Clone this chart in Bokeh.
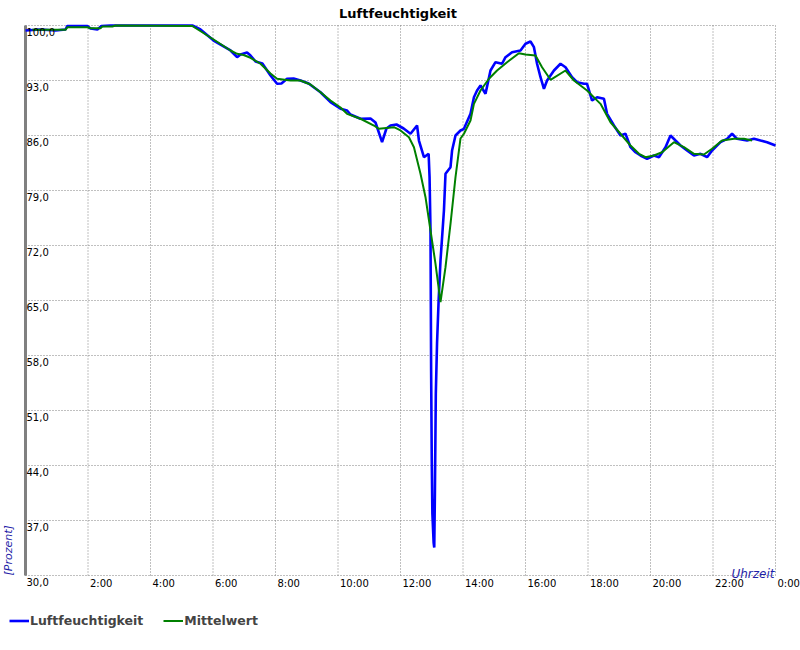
from math import pi
from bokeh.plotting import figure
from bokeh.models import Range1d, Label, LabelSet, ColumnDataSource, Legend, LegendItem
from bokeh.core.properties import value
from bokeh.embed import file_html
from bokeh.resources import INLINE

# ---- data ----
hours_blue = [0.0, 0.48, 0.96, 1.28, 1.34, 1.98, 2.08, 2.30, 2.43, 2.72, 5.34, 5.60, 6.02, 6.56, 6.77, 6.88,
              7.09, 7.20, 7.36, 7.58, 7.84, 8.05, 8.19, 8.37, 8.58, 8.80, 9.06, 9.44, 9.76, 10.08, 10.29, 10.40,
              10.72, 11.04, 11.20, 11.41, 11.55, 11.68, 11.87, 12.10, 12.32, 12.53, 12.59, 12.75, 12.90, 12.93,
              12.96, 12.98, 13.00, 13.02, 13.06, 13.08, 13.10, 13.13, 13.17, 13.22, 13.28, 13.39, 13.44, 13.60,
              13.65, 13.76, 13.92, 14.03, 14.24, 14.35, 14.45, 14.56, 14.72, 14.88, 15.04, 15.25, 15.36, 15.57,
              15.84, 16.00, 16.16, 16.27, 16.37, 16.48, 16.59, 16.69, 16.91, 17.12, 17.28, 17.49, 17.65, 17.87,
              17.97, 18.13, 18.29, 18.51, 18.61, 18.83, 19.04, 19.20, 19.36, 19.52, 19.68, 19.89, 20.11, 20.27,
              20.48, 20.64, 20.80, 20.96, 21.17, 21.39, 21.60, 21.81, 21.97, 22.24, 22.45, 22.61, 22.77, 23.09,
              23.31, 23.52, 23.73, 24.00]
values_blue = [99.36, 99.49, 99.36, 99.49, 99.94, 99.94, 99.62, 99.49, 99.94, 100.0, 100.0, 99.49, 98.09, 96.82,
               95.97, 96.31, 96.56, 96.18, 95.42, 95.16, 93.64, 92.58, 92.62, 93.22, 93.25, 93.0, 92.62, 91.51,
               90.24, 89.4, 89.18, 88.67, 88.13, 88.16, 87.65, 85.15, 86.89, 87.27, 87.4, 86.89, 86.22, 87.27,
               85.36, 83.24, 83.67, 80.69, 73.91, 56.09, 44.89, 37.89, 34.2, 33.56, 40.18, 53.16, 59.65, 65.0,
               70.09, 76.45, 81.13, 81.97, 84.09, 86.0, 86.64, 86.85, 88.76, 90.87, 91.73, 92.36, 91.31, 94.27,
               95.33, 95.13, 95.97, 96.6, 96.82, 97.67, 97.96, 97.24, 95.13, 93.42, 91.94, 93.0, 94.27, 95.13,
               94.69, 93.42, 92.78, 92.58, 92.58, 90.45, 90.87, 90.67, 88.76, 87.27, 86.0, 86.22, 84.51, 83.87,
               83.45, 83.03, 83.45, 83.24, 84.51, 86.0, 85.36, 84.73, 84.09, 83.45, 83.67, 83.24, 84.09, 85.15,
               85.58, 86.22, 85.58, 85.36, 85.58, 85.36, 85.15, 84.73]

hours_green = [0.22, 1.28, 1.34, 1.98, 2.08, 2.40, 2.46, 2.78, 2.88, 5.34, 6.02, 6.56, 6.77, 6.98, 7.20, 7.52,
               7.84, 8.05, 8.48, 8.80, 9.12, 9.44, 9.76, 10.08, 10.29, 10.72, 11.15, 11.31, 11.79, 12.00, 12.27,
               12.43, 12.64, 12.80, 12.96, 13.12, 13.28, 13.44, 13.60, 13.76, 13.92, 14.03, 14.24, 14.35, 14.56,
               14.83, 15.09, 15.41, 15.79, 16.00, 16.32, 16.53, 16.80, 17.28, 17.55, 17.97, 18.40, 18.72, 19.04,
               19.36, 19.63, 19.84, 20.11, 20.37, 20.75, 21.07, 21.39, 21.71, 21.97, 22.29, 22.67, 22.99, 23.25]
values_green = [99.45, 99.45, 99.78, 99.78, 99.66, 99.66, 99.87, 99.87, 100.0, 99.94, 98.22, 96.82, 96.4, 96.25,
                95.89, 95.13, 93.89, 93.22, 93.0, 93.0, 92.49, 91.51, 90.45, 89.56, 88.76, 88.13, 87.27, 86.85,
                87.06, 86.64, 85.78, 84.51, 81.13, 78.15, 73.91, 69.67, 64.78, 69.24, 74.76, 80.69, 85.62, 86.22,
                87.91, 90.03, 91.73, 93.22, 94.27, 95.33, 96.47, 96.31, 96.18, 94.69, 93.09, 94.27, 93.0, 91.73,
                90.03, 87.69, 86.22, 84.73, 83.67, 83.24, 83.45, 83.87, 85.15, 84.51, 83.67, 83.58, 84.31, 85.36,
                85.58, 85.58, 85.36]

x_grid_hours = [0, 2, 4, 6, 8, 10, 12, 14, 16, 18, 20, 22, 24]
x_label_hours = [2, 4, 6, 8, 10, 12, 14, 16, 18, 20, 22, 24]
x_tick_labels = ["2:00", "4:00", "6:00", "8:00", "10:00", "12:00", "14:00", "16:00",
                 "18:00", "20:00", "22:00", "0:00"]
y_ticks = [30, 37, 44, 51, 58, 65, 72, 79, 86, 93, 100]
y_tick_labels = ["30,0", "37,0", "44,0", "51,0", "58,0", "65,0", "72,0", "79,0", "86,0", "93,0", "100,0"]

title_text = "Luftfeuchtigkeit"
x_title = "Uhrzeit"
y_title = "[Prozent]"
series_names = ["Luftfeuchtigkeit", "Mittelwert"]

# ---- layout constants (pixels) ----
W, H = 800, 645
PLOT_L, PLOT_R, PLOT_T, PLOT_B = 25, 775, 25, 575
x_lo, x_hi = min(x_grid_hours), max(x_grid_hours)
y_lo, y_hi = min(y_ticks), max(y_ticks)
ppx = (PLOT_R - PLOT_L) / (x_hi - x_lo)
ppy = (PLOT_B - PLOT_T) / (y_hi - y_lo)

FONT = "DejaVu Sans"
BLUE = "#0000ff"
GREEN = "#008000"
GRID = "#808080"
AXIS_TITLE_COLOR = "#1f1fa8"

p = figure(width=W, height=H,
           x_range=Range1d(x_lo - PLOT_L / ppx, x_hi + (W - PLOT_R) / ppx),
           y_range=Range1d(y_lo - (H - PLOT_B) / ppy, y_hi + PLOT_T / ppy),
           output_backend="svg", toolbar_location=None, title=None,
           x_axis_location=None, y_axis_location=None,
           min_border_left=0, min_border_right=0, min_border_top=0, min_border_bottom=0)
p.outline_line_color = None
p.background_fill_color = "white"
p.border_fill_color = "white"
p.grid.visible = False

# dotted grid
p.segment(x0=x_grid_hours, y0=[y_lo] * len(x_grid_hours), x1=x_grid_hours, y1=[y_hi] * len(x_grid_hours),
          line_color=GRID, line_dash="1 2", line_width=1)
p.segment(x0=[x_lo] * len(y_ticks), y0=y_ticks, x1=[x_hi] * len(y_ticks), y1=y_ticks,
          line_color=GRID, line_dash="1 2", line_width=1)
# left axis line
p.segment(x0=[x_lo], y0=[y_lo], x1=[x_lo], y1=[y_hi], line_color=GRID, line_width=3)

r_blue = p.line(hours_blue, values_blue, line_color=BLUE, line_width=2.6)
r_green = p.line(hours_green, values_green, line_color=GREEN, line_width=2)

ysrc = ColumnDataSource(dict(x=[x_lo] * len(y_ticks), y=y_ticks, t=y_tick_labels))
p.add_layout(LabelSet(x="x", y="y", text="t", source=ysrc, x_offset=1, y_offset=-2,
                      text_baseline="top", text_align="left", text_font=value(FONT),
                      text_font_size=value("10px"), text_color="black"))
xsrc = ColumnDataSource(dict(x=x_label_hours, y=[y_lo] * len(x_label_hours), t=x_tick_labels))
p.add_layout(LabelSet(x="x", y="y", text="t", source=xsrc, x_offset=2, y_offset=-2,
                      text_baseline="top", text_align="left", text_font=value(FONT),
                      text_font_size=value("10px"), text_color="black"))

p.add_layout(Label(x=(x_lo + x_hi) / 2, y=y_hi, text=title_text, text_align="center",
                   text_baseline="alphabetic", x_offset=-2.5, y_offset=12, text_font=FONT,
                   text_font_style="bold", text_font_size="13px", text_color="black"))
p.add_layout(Label(x=x_hi, y=y_lo, text=x_title, text_align="right", text_baseline="alphabetic",
                   x_offset=-1, y_offset=2, text_font=FONT, text_font_style="italic",
                   text_font_size="12px", text_color=AXIS_TITLE_COLOR))
p.add_layout(Label(x=x_lo, y=y_lo, text=y_title, angle=pi / 2, text_align="left",
                   text_baseline="middle", x_offset=-17, text_font=FONT, text_font_style="italic",
                   text_font_size="11px", text_color=AXIS_TITLE_COLOR))

legend = Legend(items=[LegendItem(label=series_names[0], renderers=[r_blue]),
                       LegendItem(label=series_names[1], renderers=[r_green])],
                orientation="horizontal", location=(9, 13.5), glyph_width=20, glyph_height=23,
                label_height=15, label_standoff=1, spacing=20, padding=0, margin=0,
                border_line_color=None, background_fill_alpha=0,
                label_text_font=FONT, label_text_font_style="bold", label_text_font_size="12.5px",
                label_text_baseline="middle")
p.add_layout(legend)

open("out.html", "w").write(file_html(p, INLINE))
